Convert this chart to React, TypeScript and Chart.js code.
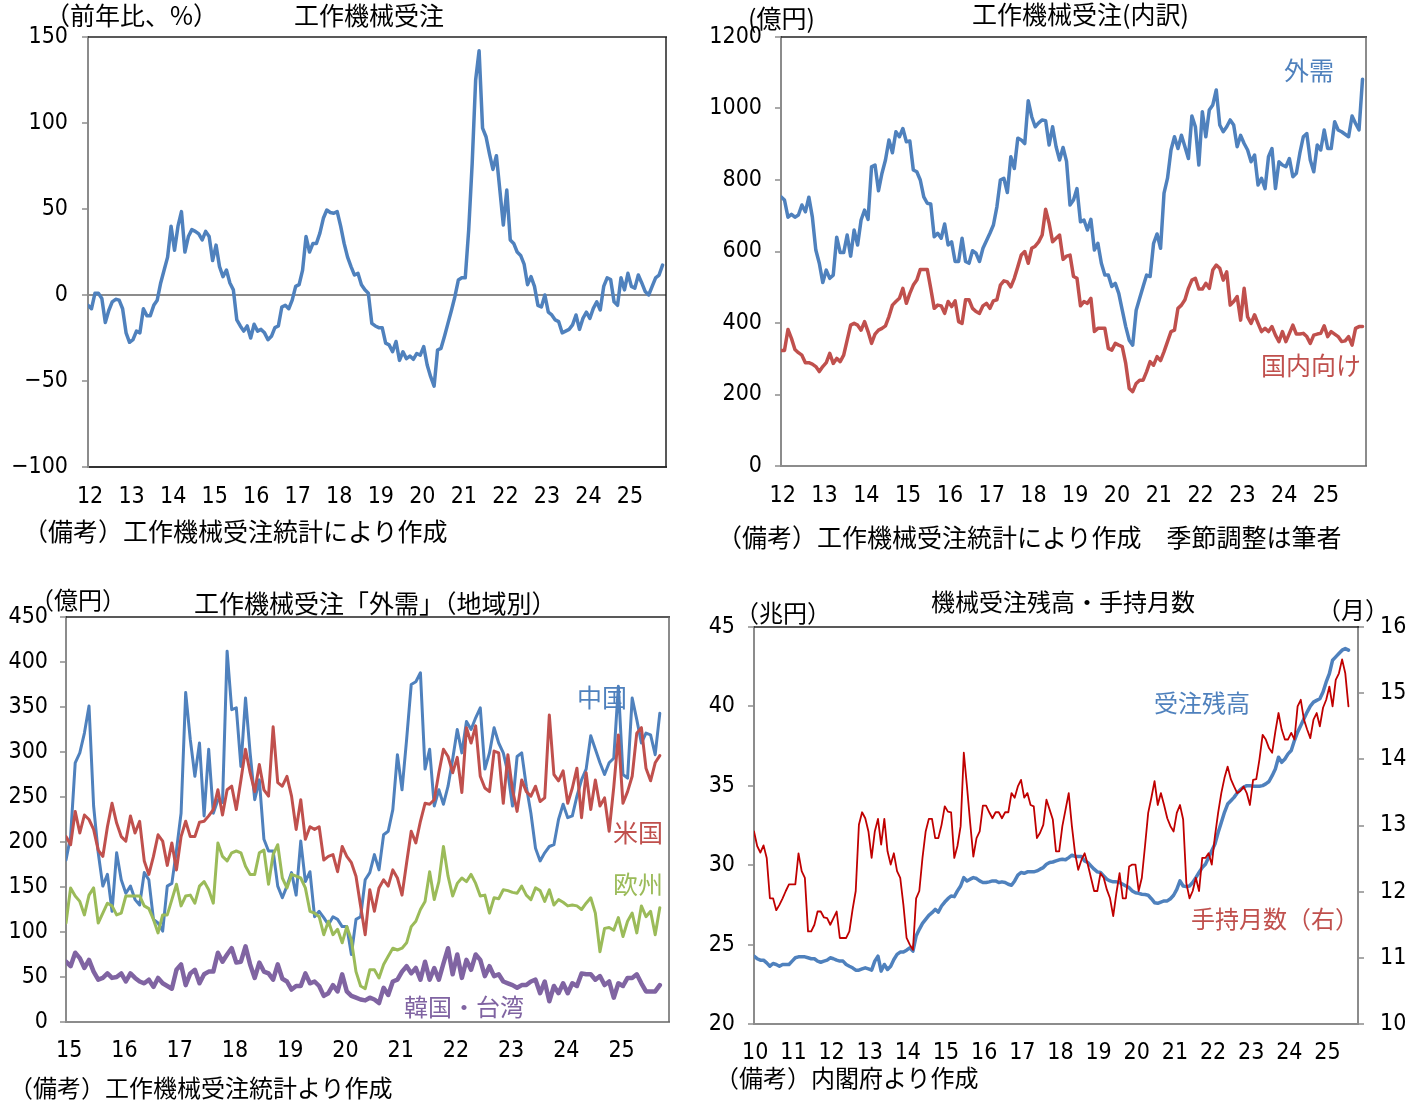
import React, { useEffect, useRef } from 'react';
import { Chart, registerables } from 'chart.js';

Chart.register(...registerables);

const NUM_FONT = "'Liberation Sans Narrow', 'Arial Narrow', 'DejaVu Sans Condensed', 'Liberation Sans', sans-serif";
const JP_FONT = "'Noto Sans CJK JP', 'Noto Sans', sans-serif";

const BLUE = '#4F81BD';
const RED = '#C0504D';
const GREEN = '#9BBB59';
const PURPLE = '#8064A2';
const DARK_RED = '#C00000';

// ---------------- Panel 1: 工作機械受注 (前年比, %) 2012/01 - 2025/11
const p1YearLabels = ['12', '13', '14', '15', '16', '17', '18', '19', '20', '21', '22', '23', '24', '25'];
const p1YTicks = [-100, -50, 0, 50, 100, 150];
const p1Yoy = [
  -6, -8, 1, 1, -2, -16, -9, -4, -2.5, -3, -8, -22,
  -27.5, -26, -21, -22, -8, -12, -12, -6, -3, 7, 14.5, 22,
  40, 26, 40, 48.5, 25, 34, 38, 37, 35.5, 32, 37, 34,
  20, 29, 16.5, 10.7, 14.5, 7, 3, -14.5, -18, -21, -18, -25,
  -17, -21, -20, -22, -26, -24, -19, -18, -7, -6, -8, -3,
  5, 6, 14.5, 34, 25, 30, 30, 36, 44.6, 49.4, 48, 47.5,
  48.5, 40, 30, 22, 16.5, 11.6, 12.6, 6, 3, 1, -16.5, -18,
  -19, -19, -28, -29, -33, -27, -38, -33, -37, -35.5, -37.4, -34,
  -35, -30, -40.7, -47.5, -53, -32, -31, -24, -16.5, -9, -1, 8.7,
  10, 10, 38, 76.5, 125, 142, 97, 92, 82, 73, 81, 61,
  40.7, 61, 32, 30, 25, 23, 18, 6, 10.7, 5, -6, -7,
  0, -10, -11.6, -14.5, -15.5, -22, -21, -20, -17.4, -11.6, -20, -13.6,
  -10, -13.6, -7.8, -4, -8.7, 5, 10, 9, -4, -6, 10, 3,
  12.6, 5, 4, 11.6, 7, 2, 0, 5, 10, 11.6, 17.4,
];

// ---------------- Panel 2: 工作機械受注(内訳) 億円 2012/01 - 2025/12
const p2YearLabels = ['12', '13', '14', '15', '16', '17', '18', '19', '20', '21', '22', '23', '24', '25'];
const p2YTicks = [0, 200, 400, 600, 800, 1000, 1200];
const p2Foreign = [
  753, 744, 696, 704, 696, 702, 730, 711, 752, 697, 604, 567,
  513, 548, 525, 534, 640, 597, 597, 646, 587, 660, 618, 688,
  716, 690, 837, 842, 770, 819, 856, 912, 876, 935, 921, 944,
  907, 909, 828, 823, 800, 753, 735, 733, 641, 651, 637, 677,
  618, 627, 572, 572, 637, 572, 567, 602, 595, 572, 609, 630,
  651, 674, 725, 800, 805, 765, 865, 832, 917, 912, 902, 1022,
  977, 949, 960, 968, 966, 898, 949, 893, 856, 891, 852, 730,
  744, 776, 683, 688, 660, 690, 604, 623, 567, 534, 534, 502,
  511, 483, 436, 390, 352, 338, 436, 469, 502, 534, 530, 623,
  649, 609, 763, 805, 884, 921, 888, 925, 893, 860, 979, 949,
  842, 991, 921, 996, 1010, 1052, 954, 935, 949, 968, 954, 893,
  925, 902, 884, 851, 870, 786, 805, 776, 865, 888, 776, 851,
  842, 837, 860, 809, 819, 875, 921, 930, 856, 823, 898, 884,
  940, 888, 888, 963, 940, 935, 928, 921, 979, 958, 940, 1082,
];
const p2Domestic = [
  323, 323, 382, 357, 326, 317, 310, 289, 289, 285, 278, 264,
  278, 289, 315, 287, 301, 292, 310, 352, 394, 399, 394, 380,
  404, 376, 343, 369, 380, 385, 392, 418, 450, 460, 469, 497,
  455, 483, 506, 520, 550, 550, 550, 497, 441, 450, 448, 427,
  460, 446, 462, 404, 399, 465, 465, 441, 432, 427, 448, 455,
  441, 462, 465, 506, 518, 515, 501, 525, 557, 590, 600, 567,
  609, 615, 627, 646, 718, 679, 627, 637, 646, 578, 587, 590,
  530, 525, 448, 460, 455, 469, 376, 385, 385, 385, 329, 324,
  343, 338, 334, 287, 217, 208, 231, 240, 240, 264, 292, 282,
  306, 295, 320, 348, 376, 380, 441, 450, 465, 497, 520, 525,
  495, 495, 511, 497, 548, 562, 553, 520, 543, 450, 460, 474,
  408, 497, 417, 399, 423, 399, 376, 385, 376, 390, 366, 348,
  376, 348, 371, 394, 369, 369, 371, 362, 343, 366, 369, 371,
  392, 362, 376, 369, 362, 348, 350, 362, 338, 385, 390, 390,
];

// ---------------- Panel 3: 外需 地域別 億円 2015/01 - 2025/10
const p3YearLabels = ['15', '16', '17', '18', '19', '20', '21', '22', '23', '24', '25'];
const p3YTicks = [0, 50, 100, 150, 200, 250, 300, 350, 400, 450];
const p3China = [
  180, 206, 288, 299, 321, 351, 240, 188, 151, 164, 123, 188,
  158, 143, 151, 136, 130, 166, 158, 114, 110, 101, 151, 154,
  191, 232, 366, 314, 273, 310, 229, 303, 232, 247, 244, 412,
  347, 349, 284, 360, 299, 247, 269, 203, 190, 190, 151, 138,
  151, 166, 141, 201, 156, 167, 117, 123, 116, 108, 117, 114,
  106, 106, 75, 114, 117, 158, 166, 186, 169, 208, 212, 236,
  297, 258, 314, 375, 378, 388, 281, 303, 240, 258, 242, 262,
  292, 325, 299, 334, 325, 338, 349, 281, 299, 327, 310, 299,
  277, 240, 295, 299, 262, 232, 193, 179, 188, 195, 197, 225,
  242, 227, 229, 251, 269, 281, 318, 303, 288, 275, 288, 293,
  373, 275, 271, 360, 336, 310, 321, 319, 297, 343,
];
const p3Usa = [
  206, 197, 234, 210, 230, 225, 214, 191, 184, 217, 243, 221,
  206, 201, 229, 210, 223, 179, 164, 184, 208, 201, 174, 199,
  169, 206, 223, 206, 206, 222, 223, 229, 236, 258, 230, 258,
  262, 236, 269, 303, 277, 256, 286, 258, 251, 328, 266, 262,
  273, 251, 214, 247, 203, 217, 214, 217, 180, 184, 186, 167,
  195, 184, 177, 162, 129, 97, 147, 123, 149, 158, 151, 169,
  160, 141, 177, 212, 199, 223, 243, 242, 247, 277, 303, 295,
  277, 294, 255, 327, 310, 329, 273, 260, 256, 301, 299, 243,
  297, 258, 234, 269, 256, 251, 262, 245, 249, 341, 275, 268,
  279, 243, 260, 282, 227, 277, 236, 269, 240, 249, 212, 261,
  319, 243, 256, 273, 321, 327, 282, 268, 288, 296,
];
const p3Europe = [
  110, 149, 140, 134, 119, 141, 149, 110, 121, 132, 129, 119,
  121, 140, 140, 140, 140, 129, 126, 114, 99, 119, 119, 136,
  153, 129, 140, 141, 132, 151, 156, 147, 132, 199, 184, 179,
  188, 190, 188, 173, 164, 164, 188, 191, 153, 186, 197, 160,
  149, 164, 162, 160, 149, 123, 121, 117, 97, 112, 97, 103,
  88, 106, 91, 56, 40, 37, 58, 58, 49, 64, 73, 82,
  80, 82, 88, 106, 112, 125, 134, 167, 136, 156, 195, 162,
  140, 154, 160, 156, 164, 154, 140, 141, 121, 138, 137, 147,
  146, 144, 143, 151, 141, 136, 149, 146, 134, 147, 130, 136,
  133, 129, 130, 129, 125, 132, 138, 121, 78, 104, 105, 102,
  116, 95, 112, 121, 99, 129, 117, 123, 97, 127,
];
const p3KoreaTaiwan = [
  67, 62, 77, 71, 60, 69, 56, 47, 49, 54, 49, 50,
  54, 45, 54, 49, 45, 43, 47, 39, 49, 43, 40, 37,
  58, 64, 41, 54, 58, 43, 53, 56, 56, 77, 67, 75,
  82, 66, 67, 84, 64, 49, 66, 56, 54, 47, 64, 48,
  45, 36, 40, 40, 54, 43, 45, 40, 29, 32, 41, 34,
  53, 34, 29, 27, 25, 24, 27, 25, 21, 38, 30, 45,
  47, 56, 62, 54, 60, 47, 67, 47, 60, 47, 65, 82,
  53, 75, 49, 69, 58, 75, 69, 51, 62, 51, 53, 45,
  43, 41, 38, 41, 41, 45, 47, 32, 45, 23, 40, 32,
  43, 32, 43, 40, 54, 53, 53, 47, 51, 41, 45, 27,
  43, 40, 49, 49, 53, 43, 34, 34, 34, 41,
];

// ---------------- Panel 4: 機械受注残高(兆円)・手持月数(月) 2010/01 - 2025/08
const p4YearLabels = ['10', '11', '12', '13', '14', '15', '16', '17', '18', '19', '20', '21', '22', '23', '24', '25'];
const p4LeftTicks = [20, 25, 30, 35, 40, 45];
const p4RightTicks = [10, 11, 12, 13, 14, 15, 16];
const p4Backlog = [
  24.27, 24.11, 24.02, 24.02, 23.85, 23.64, 23.81, 23.75, 23.64, 23.75, 23.75, 23.75,
  23.96, 24.17, 24.23, 24.23, 24.23, 24.17, 24.11, 24.11, 23.96, 23.89, 23.96, 24.02,
  24.17, 24.11, 24.02, 23.96, 23.96, 23.75, 23.64, 23.54, 23.39, 23.39, 23.47, 23.54,
  23.47, 23.39, 23.96, 24.27, 23.33, 23.75, 23.43, 23.64, 24.06, 24.38, 24.53, 24.53,
  24.65, 24.8, 24.59, 25.54, 25.96, 26.34, 26.59, 26.84, 27.01, 27.22, 27.05, 27.43,
  27.68, 27.89, 28.06, 28.02, 28.38, 28.69, 29.22, 29.01, 29.12, 29.22, 29.16, 29.01,
  28.91, 28.91, 28.95, 29.01, 29.01, 28.91, 28.95, 28.91, 28.8, 28.74, 29.01, 29.37,
  29.54, 29.49, 29.58, 29.58, 29.58, 29.64, 29.75, 29.85, 30.06, 30.17, 30.2, 30.27,
  30.34, 30.38, 30.34, 30.48, 30.63, 30.55, 30.55, 30.55, 30.27, 30.17, 29.96, 29.75,
  29.58, 29.54, 29.33, 29.12, 29.01, 28.95, 28.95, 28.91, 28.8, 28.69, 28.59, 28.38,
  28.27, 28.23, 28.17, 28.15, 28.11, 27.89, 27.64, 27.6, 27.68, 27.75, 27.75, 27.89,
  28.11, 28.48, 29.01, 28.69, 28.65, 28.69, 28.91, 29.22, 29.54, 29.85, 30.06, 30.48,
  30.91, 31.33, 32.06, 32.69, 33.33, 33.85, 34.06, 34.27, 34.55, 34.76, 34.91, 35.01,
  35.01, 34.97, 34.97, 34.97, 35.01, 35.12, 35.27, 35.64, 36.06, 36.8, 36.48, 36.69,
  37.01, 37.22, 37.85, 38.38, 38.8, 39.22, 39.64, 40.02, 40.27, 40.38, 40.48, 40.91,
  41.54, 42.06, 42.91, 43.12, 43.33, 43.54, 43.64, 43.54,
];
const p4Months = [
  12.91, 12.69, 12.59, 12.7, 12.51, 11.9, 11.9, 11.72, 11.8, 11.9, 12.01, 12.11,
  12.11, 12.11, 12.58, 12.31, 12.21, 11.4, 11.4, 11.5, 11.7, 11.7, 11.61, 11.6,
  11.5, 11.6, 11.7, 11.3, 11.3, 11.3, 11.4, 11.73, 12.01, 13.01, 13.2, 13.11,
  12.91, 12.51, 12.91, 13.1, 12.71, 13.1, 12.61, 12.41, 12.58, 12.31, 12.21, 11.8,
  11.3, 11.2, 11.12, 11.9, 12.01, 12.51, 12.91, 13.1, 13.1, 12.81, 12.81, 13.01,
  13.29, 13.21, 13.2, 12.51, 12.69, 12.99, 14.1, 13.59, 13.04, 12.53, 12.81, 12.91,
  13.3, 13.3, 13.2, 13.11, 13.2, 13.2, 13.11, 13.2, 13.2, 13.49, 13.42, 13.59,
  13.69, 13.42, 13.49, 13.31, 13.29, 12.81, 12.89, 13.01, 13.39, 13.24, 13.09, 12.61,
  12.61, 12.99, 13.24, 13.49, 12.99, 12.58, 12.33, 12.48, 12.58, 12.41, 12.21, 12.01,
  12.01, 12.28, 12.21, 12.03, 11.9, 11.63, 11.98, 12.28, 11.9, 11.9, 12.38, 12.41,
  12.41, 12.01, 12.21, 12.69, 13.19, 13.42, 13.67, 13.31, 13.49, 13.31, 13.11, 12.99,
  12.91, 13.19, 13.31, 13.09, 12.13, 11.9, 12.01, 12.21, 12.01, 12.51, 12.51, 12.58,
  12.41, 12.84, 13.19, 13.49, 13.72, 13.89, 13.7, 13.59, 13.49, 13.52, 13.59, 13.49,
  13.31, 13.69, 13.7, 14.0, 14.37, 14.3, 14.17, 14.1, 14.42, 14.7, 14.45, 14.3,
  14.3, 14.4, 14.3, 14.8, 14.9, 14.6, 14.45, 14.32, 14.6, 14.7, 14.5, 14.78,
  14.9, 15.1, 14.8, 15.2, 15.3, 15.51, 15.3, 14.8,
];

// ---------------- helpers
const fmtNum = (v: number) => (v < 0 ? '\u2212' + Math.abs(v) : String(v));

const framePlugin = {
  id: 'frame',
  afterDatasetsDraw(chart: any, _args: any, opts: any) {
    const { ctx, chartArea } = chart;
    const { left, top, right, bottom } = chartArea;
    ctx.save();
    ctx.lineWidth = 1.5;
    if (opts.top) {
      ctx.strokeStyle = opts.top;
      ctx.beginPath();
      ctx.moveTo(left, top);
      ctx.lineTo(right + 1, top);
      ctx.stroke();
    }
    if (opts.right) {
      ctx.strokeStyle = opts.right;
      ctx.beginPath();
      ctx.moveTo(right, top);
      ctx.lineTo(right, bottom);
      ctx.stroke();
    }
    ctx.restore();
  },
};

function yearAxis(labels: string[], max: number, offset: number, height: number, padding: number, borderColor: string) {
  return {
    type: 'linear',
    position: 'bottom',
    min: 0,
    max,
    afterBuildTicks: (s: any) => {
      s.ticks = labels.map((_, k) => ({ value: k * 12 + offset }));
    },
    afterFit: (s: any) => {
      s.height = height;
    },
    ticks: {
      autoSkip: false,
      maxRotation: 0,
      minRotation: 0,
      padding,
      color: '#000',
      font: { family: NUM_FONT, size: 23 },
      callback: (v: number) => labels[Math.round((v - offset) / 12)],
    },
    grid: { display: false },
    border: { display: true, color: borderColor, width: 2 },
  };
}

function valueAxis(position: string, tickVals: number[], width: number, padding: number, zeroLine: boolean) {
  return {
    type: 'linear',
    position,
    min: tickVals[0],
    max: tickVals[tickVals.length - 1],
    afterBuildTicks: (s: any) => {
      s.ticks = tickVals.map((v) => ({ value: v }));
    },
    afterFit: (s: any) => {
      s.width = width;
    },
    ticks: {
      padding,
      color: '#000',
      font: { family: NUM_FONT, size: 23 },
      callback: (v: number) => fmtNum(v),
    },
    grid: {
      drawOnChartArea: zeroLine,
      color: (ctx: any) => (zeroLine && ctx.tick && ctx.tick.value === 0 ? '#8C8C8C' : 'rgba(0,0,0,0)'),
      lineWidth: 2,
      tickColor: '#8C8C8C',
      tickLength: 6,
      tickWidth: 1.5,
    },
    border: { display: true, color: '#8C8C8C', width: 2 },
  };
}

function series(values: number[], color: string, width: number, axis = 'y') {
  return {
    data: values.map((v, i) => ({ x: i, y: v })),
    borderColor: color,
    backgroundColor: color,
    borderWidth: width,
    pointRadius: 0,
    fill: false,
    tension: 0,
    borderJoinStyle: 'round',
    borderCapStyle: 'round',
    yAxisID: axis,
  };
}

function baseOptions(padding: any, scales: any, frame: any) {
  return {
    responsive: false,
    maintainAspectRatio: false,
    animation: false,
    events: [],
    layout: { padding },
    plugins: { legend: { display: false }, tooltip: { enabled: false }, title: { display: false }, frame },
    scales,
  };
}

type PanelSpec = { left: number; top: number; w: number; h: number; make: () => any };

const panels: PanelSpec[] = [
  {
    left: 0, top: 0, w: 700, h: 520,
    make: () => ({
      type: 'line',
      data: { datasets: [series(p1Yoy, BLUE, 3.5)] },
      options: baseOptions(
        { left: 0, top: 37, right: 34, bottom: 0 },
        { x: yearAxis(p1YearLabels, 167, 0.6, 53, 8, '#333'), y: valueAxis('left', p1YTicks, 88, 14, true) },
        { top: '#222', right: '#222' }
      ),
      plugins: [framePlugin],
    }),
  },
  {
    left: 700, top: 0, w: 719, h: 520,
    make: () => ({
      type: 'line',
      data: { datasets: [series(p2Foreign, BLUE, 3.5), series(p2Domestic, RED, 3.5)] },
      options: baseOptions(
        { left: 0, top: 37, right: 53, bottom: 0 },
        { x: yearAxis(p2YearLabels, 168, 0.5, 54, 8, '#8C8C8C'), y: valueAxis('left', p2YTicks, 81, 13, false) },
        { top: '#222', right: '#666' }
      ),
      plugins: [framePlugin],
    }),
  },
  {
    left: 0, top: 560, w: 700, h: 520,
    make: () => ({
      type: 'line',
      data: {
        datasets: [
          series(p3KoreaTaiwan, PURPLE, 4.5),
          series(p3Europe, GREEN, 3),
          series(p3Usa, RED, 3),
          series(p3China, BLUE, 3),
        ],
      },
      options: baseOptions(
        { left: 0, top: 57, right: 31, bottom: 0 },
        { x: yearAxis(p3YearLabels, 131, 0.7, 58, 7, '#8C8C8C'), y: valueAxis('left', p3YTicks, 66, 12, false) },
        { top: '#222', right: '#666' }
      ),
      plugins: [framePlugin],
    }),
  },
  {
    left: 700, top: 560, w: 719, h: 520,
    make: () => ({
      type: 'line',
      data: { datasets: [series(p4Months, DARK_RED, 1.8, 'y2'), series(p4Backlog, BLUE, 3.5, 'y')] },
      options: baseOptions(
        { left: 0, top: 67, right: 0, bottom: 0 },
        {
          x: yearAxis(p4YearLabels, 190, 0.4, 56, 7, '#8C8C8C'),
          y: valueAxis('left', p4LeftTicks, 54, 13, false),
          y2: valueAxis('right', p4RightTicks, 61, 16, false),
        },
        { top: '#222' }
      ),
      plugins: [framePlugin],
    }),
  },
];

type LabelSpec = { text: string; x: number; cy: number; color?: string; size?: number };

const labels: LabelSpec[] = [
  // panel 1
  { text: '（前年比、%）', x: 45, cy: 15 },
  { text: '工作機械受注', x: 294, cy: 15 },
  { text: '（備考）工作機械受注統計により作成', x: 23, cy: 531 },
  // panel 2
  { text: '(億円)', x: 748, cy: 18 },
  { text: '工作機械受注(内訳)', x: 972, cy: 14 },
  { text: '外需', x: 1284, cy: 70, color: BLUE },
  { text: '国内向け', x: 1261, cy: 365, color: RED },
  { text: '（備考）工作機械受注統計により作成　季節調整は筆者', x: 717, cy: 537 },
  // panel 3
  { text: '（億円）', x: 30, cy: 600, size: 24 },
  { text: '工作機械受注「外需」（地域別）', x: 194, cy: 603, size: 25 },
  { text: '中国', x: 577, cy: 697, color: BLUE },
  { text: '米国', x: 613, cy: 832, color: RED },
  { text: '欧州', x: 613, cy: 884, color: GREEN },
  { text: '韓国・台湾', x: 404, cy: 1007, color: PURPLE, size: 24 },
  { text: '（備考）工作機械受注統計より作成', x: 9, cy: 1088, size: 24 },
  // panel 4
  { text: '機械受注残高・手持月数', x: 931, cy: 602, size: 24 },
  { text: '（兆円）', x: 735, cy: 613, size: 24 },
  { text: '（月）', x: 1317, cy: 610, size: 24 },
  { text: '受注残高', x: 1154, cy: 703, color: BLUE, size: 24 },
  { text: '手持月数（右）', x: 1191, cy: 919, color: RED, size: 24 },
  { text: '（備考）内閣府より作成', x: 715, cy: 1078, size: 24 },
];

function ChartCanvas({ spec }: { spec: PanelSpec }) {
  const ref = useRef<HTMLCanvasElement | null>(null);
  useEffect(() => {
    if (!ref.current) return;
    const chart = new Chart(ref.current, spec.make());
    return () => chart.destroy();
  }, [spec]);
  return (
    <canvas
      ref={ref}
      width={spec.w}
      height={spec.h}
      style={{ position: 'absolute', left: spec.left, top: spec.top, width: spec.w, height: spec.h }}
    />
  );
}

export default function App() {
  return (
    <div
      style={{
        position: 'absolute',
        left: 0,
        top: 0,
        width: 1419,
        height: 1116,
        background: '#fff',
        overflow: 'hidden',
      }}
    >
      {panels.map((p, i) => (
        <ChartCanvas key={i} spec={p} />
      ))}
      {labels.map((l, i) => {
        const size = l.size ?? 25;
        return (
          <div
            key={'l' + i}
            style={{
              position: 'absolute',
              left: l.x,
              top: l.cy - size * 0.53,
              fontFamily: JP_FONT,
              fontSize: size,
              lineHeight: 1,
              color: l.color ?? '#000',
              whiteSpace: 'nowrap',
            }}
          >
            {l.text}
          </div>
        );
      })}
    </div>
  );
}
